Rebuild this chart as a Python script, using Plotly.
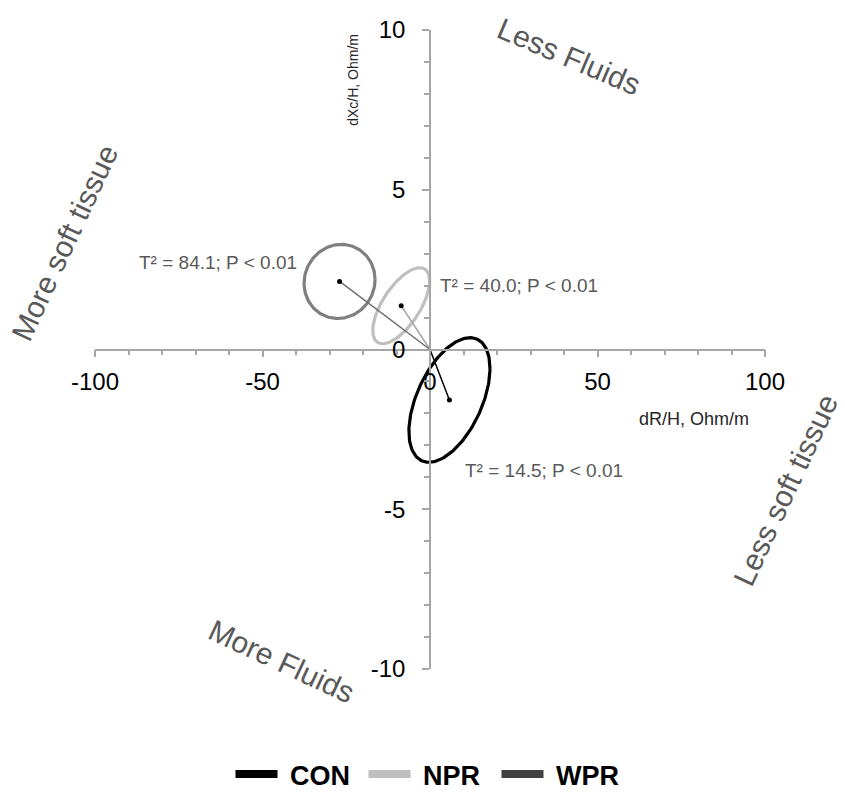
import numpy as np
import plotly.graph_objects as go

# ---- data ----
groups = ["CON", "NPR", "WPR"]
center_x = [5.8, -8.6, -27.0]        # dR/H, Ohm/m (mean change)
center_y = [-1.58, 1.37, 2.13]       # dXc/H, Ohm/m (mean change)
half_x = [12.1, 8.5, 10.6]           # ellipse extent in dR/H
half_y = [1.95, 1.19, 1.16]          # ellipse extent in dXc/H
tilt_phase = [0.53, 0.71, 0.05]      # phase giving the ellipse tilt
t2_labels = ["T\u00b2 = 14.5; P < 0.01", "T\u00b2 = 40.0; P < 0.01", "T\u00b2 = 84.1; P < 0.01"]
t2_pos_x = [34.0, 26.6, -63.4]
t2_pos_y = [-3.79, 2.0, 2.72]
x_ticks = [-100, -50, 0, 50, 100]
x_ticktext = ["-100", "-50", "0", "50", "100"]
y_ticks = [-10, -5, 0, 5, 10]
y_ticktext = ["-10", "-5", "0", "5", "10"]

ellipse_colors = {"CON": "#000000", "NPR": "#bfbfbf", "WPR": "#7f7f7f"}
vector_colors = {"CON": "#000000", "NPR": "#a6a6a6", "WPR": "#6f6f6f"}
legend_colors = {"CON": "#000000", "NPR": "#bfbfbf", "WPR": "#404040"}

FONT = "Liberation Sans, Arial, sans-serif"
TXT = "#595959"

fig = go.Figure()
t = np.linspace(0, 2 * np.pi, 181)
for i, g in enumerate(groups):
    ex = center_x[i] + half_x[i] * np.cos(t)
    ey = center_y[i] + half_y[i] * np.sin(t + tilt_phase[i])
    fig.add_trace(go.Scatter(x=ex, y=ey, mode="lines",
                             line=dict(color=ellipse_colors[g], width=3.2),
                             showlegend=False, hoverinfo="skip"))
for i, g in enumerate(groups):
    fig.add_trace(go.Scatter(x=[0, center_x[i]], y=[0, center_y[i]], mode="lines",
                             line=dict(color=vector_colors[g], width=1.5),
                             showlegend=False, hoverinfo="skip"))
fig.add_trace(go.Scatter(x=center_x, y=center_y, mode="markers",
                         marker=dict(color="#000000", size=5),
                         showlegend=False, hoverinfo="skip"))
for g in groups:
    fig.add_trace(go.Scatter(x=[None], y=[None], mode="lines", name=" " + g,
                             line=dict(color=legend_colors[g], width=8)))

for i in range(len(groups)):
    fig.add_annotation(x=t2_pos_x[i], y=t2_pos_y[i], xref="x", yref="y",
                       text=t2_labels[i], showarrow=False,
                       xanchor="center", yanchor="middle",
                       font=dict(family=FONT, size=19, color=TXT))

big = dict(family=FONT, size=30, color=TXT)
side_labels = [("Less Fluids", 0.7075, 0.958, 23),
               ("More Fluids", 0.279, 0.011, 25),
               ("More soft tissue", -0.0448, 0.667, -65),
               ("Less soft tissue", 1.030, 0.280, -65)]
for txt, px, py, ang in side_labels:
    fig.add_annotation(x=px, y=py, xref="paper", yref="paper", text=txt,
                       textangle=ang, showarrow=False, xanchor="center",
                       yanchor="middle", font=big)
fig.add_annotation(x=0.385, y=0.922, xref="paper", yref="paper", text="dXc/H, Ohm/m",
                   textangle=-90, showarrow=False, xanchor="center", yanchor="middle",
                   font=dict(family=FONT, size=14, color="#262626"))
fig.add_annotation(x=0.894, y=0.391, xref="paper", yref="paper", text="dR/H, Ohm/m",
                   showarrow=False, xanchor="center", yanchor="middle",
                   font=dict(family=FONT, size=18, color="#262626"))

axis_common = dict(showgrid=False, zeroline=False, showline=True, linecolor="#a6a6a6",
                   linewidth=1.5, ticks="outside", ticklen=7, tickcolor="#a6a6a6",
                   tickwidth=1.5, anchor="free", position=0.5,
                   tickfont=dict(family=FONT, size=24, color="#000000"))
fig.update_xaxes(range=[-100, 100], tickvals=x_ticks, ticktext=x_ticktext,
                 minor=dict(dtick=10, tick0=0, ticks="outside", ticklen=5,
                            tickcolor="#a6a6a6", tickwidth=1.5),
                 ticklabelstandoff=4, **axis_common)
fig.update_yaxes(range=[-10, 10], tickvals=y_ticks, ticktext=y_ticktext,
                 minor=dict(dtick=1, tick0=0, ticks="outside", ticklen=5,
                            tickcolor="#a6a6a6", tickwidth=1.5),
                 ticklabelstandoff=12, **axis_common)

fig.update_layout(
    width=845, height=792,
    margin=dict(l=95, r=80, t=30, b=123, autoexpand=False),
    plot_bgcolor="white", paper_bgcolor="white",
    showlegend=True,
    legend=dict(orientation="h", x=0.5, xanchor="center", y=-0.165, yanchor="middle",
                font=dict(family=FONT, size=27, color="#000000", weight="bold"),
                itemwidth=42, entrywidth=76, traceorder="normal"),
)
fig.write_html("out.html")
